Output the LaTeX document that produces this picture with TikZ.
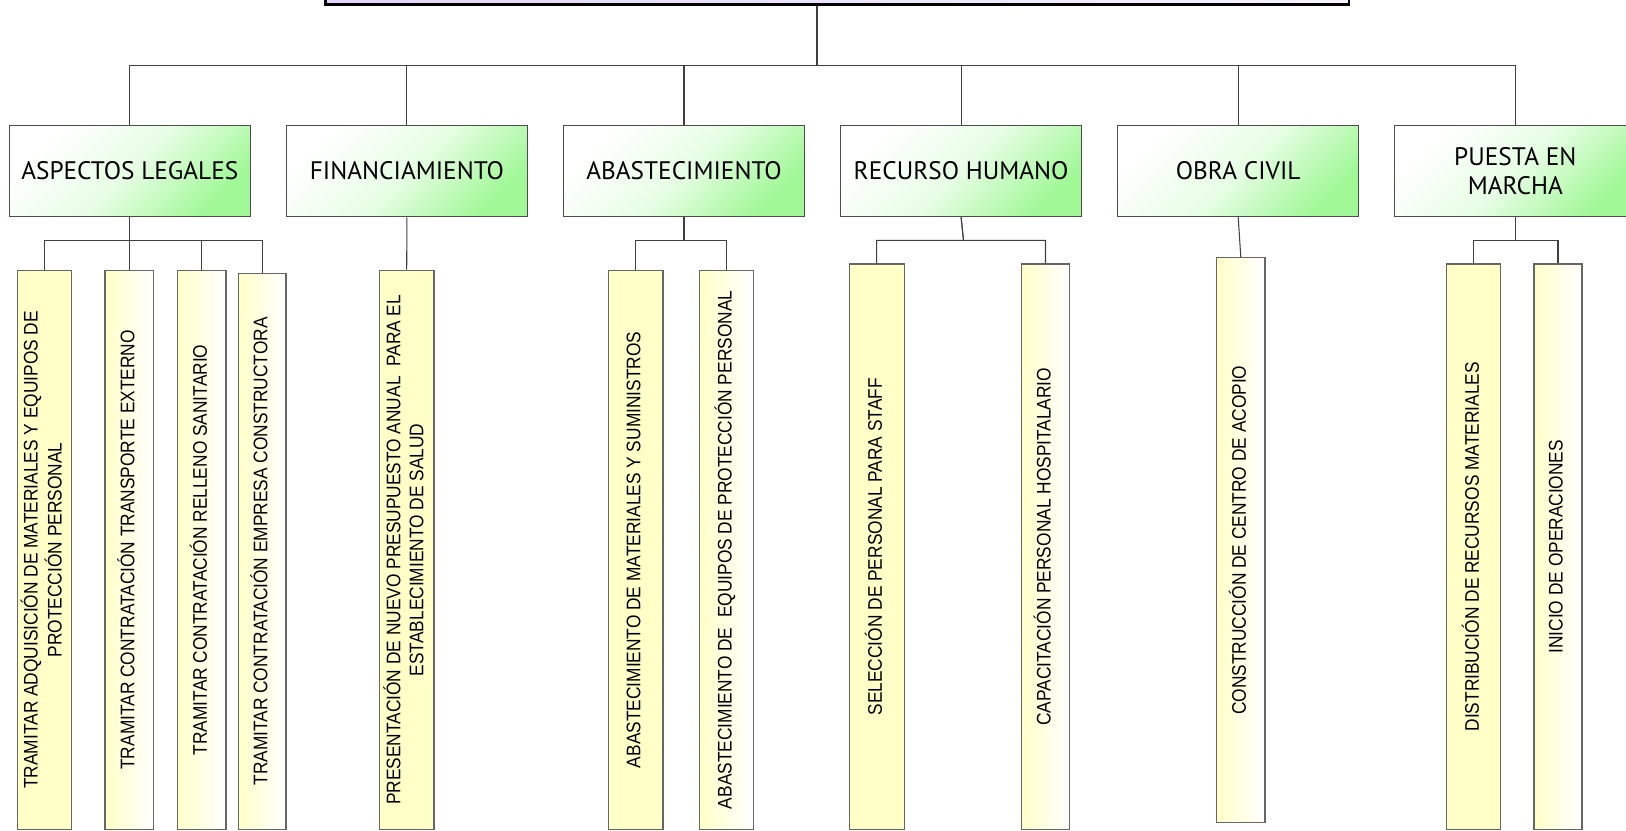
\documentclass[tikz,border=0pt]{standalone}
\usepackage{fontspec}
\usepackage{graphicx}
\newfontfamily\headfont{PT Sans}
\newfontfamily\leaffont[FakeStretch=0.88]{Liberation Sans}
\definecolor{lav}{RGB}{226,212,250}
\definecolor{grn}{RGB}{160,248,150}
\definecolor{ylw}{RGB}{255,255,200}
% upright text turned to read bottom-up
\newcommand{\vtext}[1]{\rotatebox{90}{\begin{tabular}{@{}c@{}}#1\end{tabular}}}
\tikzset{
  stage/.style={draw=black!70, line width=0.8pt, minimum width=6.025cm, minimum height=2.28cm,
    inner sep=2pt, align=center, font=\headfont\fontsize{18}{20.5}\selectfont,
    top color=white, bottom color=grn, middle color=white!75!grn, shading angle=45},
  task/.style={draw=black!60, line width=0.8pt, anchor=north, inner sep=0pt, fill=ylw,
    font=\leaffont\fontsize{14}{16.3}\selectfont},
  fadetask/.style={task, left color=ylw, right color=white},
  link/.style={draw=black!75, line width=0.75pt}
}
\begin{document}
\begin{tikzpicture}
  \useasboundingbox (0,0) rectangle (40.65,-20.75);
  \clip (0,0) rectangle (40.65,-20.75);

  % title box, only its lower edge is on the page
  \node[draw, line width=1.8pt, minimum width=25.59cm, minimum height=1.5cm, anchor=south west,
    left color=lav, right color=lav!30] (title) at (8.1,-0.1425) {};
  \coordinate (hub) at (20.425,-1.633);
  \draw[link] (title.south -| hub) -- (hub);

  % stages
  \node[stage] (legal) at (3.245,-4.2775) {ASPECTOS LEGALES};
  \node[stage] (fin) at (10.1725,-4.2775) {FINANCIAMIENTO};
  \node[stage] (abast) at (17.1,-4.2775) {ABASTECIMIENTO};
  \node[stage] (rrhh) at (24.0275,-4.2775) {RECURSO HUMANO};
  \node[stage] (obra) at (30.955,-4.2775) {OBRA CIVIL};
  \node[stage] (puesta) at (37.8825,-4.2775) {PUESTA EN\\MARCHA};
  \draw[link] (hub) -| (legal.north);
  \draw[link] (hub) -| (fin.north);
  \draw[link] (hub) -| (abast.north);
  \draw[link] (hub) -| (rrhh.north);
  \draw[link] (hub) -| (obra.north);
  \draw[link] (hub) -| (puesta.north);

  % aspectos legales
  \node[task, minimum width=1.35cm, minimum height=13.985cm] (legal1) at (1.1125,-6.74)
    {\vtext{TRAMITAR ADQUISICIÓN DE MATERIALES Y EQUIPOS DE\\PROTECCIÓN PERSONAL}};
  \node[fadetask, minimum width=1.215cm, minimum height=13.985cm] (legal2) at (3.2325,-6.74)
    {\vtext{TRAMITAR CONTRATACIÓN TRANSPORTE EXTERNO}};
  \node[fadetask, minimum width=1.2125cm, minimum height=13.985cm] (legal3) at (5.045,-6.74)
    {\vtext{TRAMITAR CONTRATACIÓN RELLENO SANITARIO}};
  \node[fadetask, minimum width=1.1875cm, minimum height=13.9075cm] (legal4) at (6.555,-6.8175)
    {\vtext{TRAMITAR CONTRATACIÓN EMPRESA CONSTRUCTORA}};
  \draw[link] (legal.south) -- ++(0,-0.57) -| (legal1.north);
  \draw[link] (legal.south) -- ++(0,-0.57) -| (legal2.north);
  \draw[link] (legal.south) -- ++(0,-0.57) -| (legal3.north);
  \draw[link] (legal.south) -- ++(0,-0.57) -| (legal4.north);

  % financiamiento
  \node[task, minimum width=1.365cm, minimum height=13.985cm] (fin1) at (10.1675,-6.74)
    {\vtext{PRESENTACIÓN DE NUEVO PRESUPUESTO ANUAL~ PARA EL\\ESTABLECIMIENTO DE SALUD}};
  \draw[link] (fin.south) -- (fin1.north);

  % abastecimiento
  \node[task, minimum width=1.3575cm, minimum height=13.985cm] (abast1) at (15.895,-6.74)
    {\vtext{ABASTECIMIENTO DE MATERIALES Y SUMINISTROS}};
  \node[fadetask, minimum width=1.36cm, minimum height=13.985cm] (abast2) at (18.1625,-6.74)
    {\vtext{ABASTECIMIENTO DE~ EQUIPOS DE PROTECCIÓN PERSONAL}};
  \draw[link] (abast.south) -- ++(0,-0.57) -| (abast1.north);
  \draw[link] (abast.south) -- ++(0,-0.57) -| (abast2.north);

  % recurso humano
  \node[task, minimum width=1.3675cm, minimum height=14.14cm] (rrhh1) at (21.9175,-6.585)
    {\vtext{SELECCIÓN DE PERSONAL PARA STAFF}};
  \node[fadetask, minimum width=1.19cm, minimum height=14.14cm] (rrhh2) at (26.1375,-6.585)
    {\vtext{CAPACITACIÓN PERSONAL HOSPITALARIO}};
  \draw[link] (rrhh.south) -- ++(0.06,-0.58) -| (rrhh1.north);
  \draw[link] (rrhh.south) -- ++(0.06,-0.58) -| (rrhh2.north);

  % obra civil
  \node[fadetask, minimum width=1.2075cm, minimum height=14.12cm] (obra1) at (31.02,-6.43)
    {\vtext{CONSTRUCCIÓN DE CENTRO DE ACOPIO}};
  \draw[link] (obra.south) -- (obra1.north);

  % puesta en marcha
  \node[task, minimum width=1.35cm, minimum height=14.14cm] (puesta1) at (36.8425,-6.585)
    {\vtext{DISTRIBUCIÓN DE RECURSOS MATERIALES}};
  \node[fadetask, minimum width=1.2cm, minimum height=14.14cm] (puesta2) at (38.95,-6.585)
    {\vtext{INICIO DE OPERACIONES}};
  \draw[link] (puesta.south) -- ++(0,-0.57) -| (puesta1.north);
  \draw[link] (puesta.south) -- ++(0,-0.57) -| (puesta2.north);
\end{tikzpicture}
\end{document}
